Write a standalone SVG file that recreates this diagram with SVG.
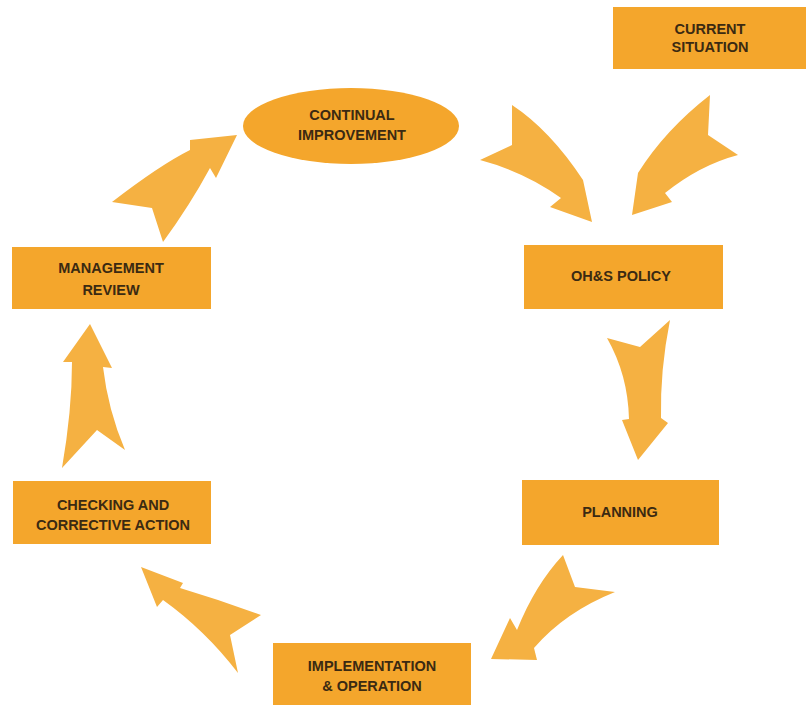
<svg xmlns="http://www.w3.org/2000/svg" width="806" height="707" viewBox="0 0 806 707">
<style>
.box{fill:#F4A62C;}
.arr{fill:#F5B142;}
.t{font-family:"Liberation Sans","DejaVu Sans",sans-serif;font-weight:bold;font-size:14.5px;fill:#3b2a12;text-anchor:middle;}
</style>
<rect width="806" height="707" fill="#ffffff"/>
<g id="connectors">
<path class="arr" d="M112,202 Q160,165 190,150 L190,140 L237,135 L216,178 L210,168 Q190,205 163,242 L152,208 Z"/>
<path class="arr" d="M512,105 Q550,130 583,180 L592,222 L550,207 L561,198 Q525,172 480,160 L512,145 Z"/>
<path class="arr" d="M710,95 Q665,130 638,173 L632,215 L672,202 L665,193 Q700,165 738,155 L708,135 Z"/>
<path class="arr" d="M607,338 L640,347 L670,320 Q660,370 661,418 L668,423 L638,460 L622,420 L629,419 Q628,375 607,338 Z"/>
<path class="arr" d="M563,555 L575,587 L615,592 Q565,612 534,648 L537,660 L491,659 L510,618 L517,630 Q535,585 563,555 Z"/>
<path class="arr" d="M141,567 L183,583 L180,588 Q220,600 261,615 L230,635 L238,673 Q205,630 163,600 L157,607 Z"/>
<path class="arr" d="M90,324 L112,368 L103,367 Q108,410 125,450 L97,430 L62,468 Q72,410 72,362 L63,362 Z"/>
</g>
<g id="current">
<rect class="box" x="613" y="7" width="193" height="62"/>
<text class="t" x="710" y="34">CURRENT</text>
<text class="t" x="710" y="52">SITUATION</text>
</g>
<g id="continual">
<ellipse class="box" cx="351" cy="126" rx="108" ry="38"/>
<text class="t" x="352" y="120">CONTINUAL</text>
<text class="t" x="352" y="140">IMPROVEMENT</text>
</g>
<g id="policy">
<rect class="box" x="524" y="245" width="199" height="64"/>
<text class="t" x="621" y="281">OH&amp;S POLICY</text>
</g>
<g id="planning">
<rect class="box" x="522" y="480" width="197" height="65"/>
<text class="t" x="620" y="517">PLANNING</text>
</g>
<g id="implementation">
<rect class="box" x="273" y="643" width="198" height="62"/>
<text class="t" x="372" y="671">IMPLEMENTATION</text>
<text class="t" x="372" y="691">&amp; OPERATION</text>
</g>
<g id="checking">
<rect class="box" x="13" y="481" width="198" height="63"/>
<text class="t" x="113" y="510">CHECKING AND</text>
<text class="t" x="113" y="530">CORRECTIVE ACTION</text>
</g>
<g id="review">
<rect class="box" x="12" y="247" width="199" height="62"/>
<text class="t" x="111" y="273">MANAGEMENT</text>
<text class="t" x="111" y="295">REVIEW</text>
</g>
</svg>
